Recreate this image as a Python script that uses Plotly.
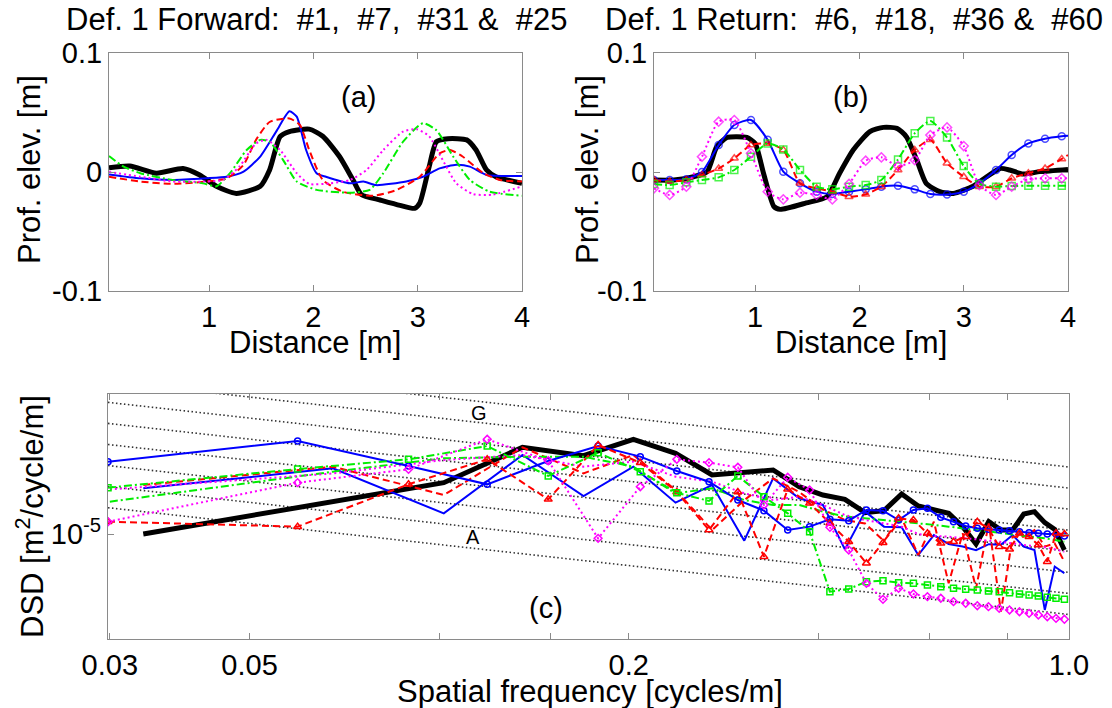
import plotly.graph_objects as go

FONT = "Liberation Sans, Arial, sans-serif"
AXC = "#8a8a8a"

# ---------------- Panel (a): forward profiles ----------------
a_black_x = [0.04, 0.24, 0.495, 0.75, 0.91, 1.07, 1.26, 1.49, 1.58, 1.68, 1.77, 1.96, 2.09, 2.25, 2.38, 2.46, 2.64, 2.83, 2.97, 3.02, 3.11, 3.18, 3.29, 3.47, 3.56, 3.66, 3.75, 4.0]
a_black_y = [0.0036, 0.005, -0.001, 0.003, -0.0025, -0.012, -0.018, -0.012, 0.0017, 0.0297, 0.034, 0.036, 0.030, 0.013, -0.0067, -0.019, -0.0235, -0.028, -0.0305, -0.026, 0.0045, 0.0255, 0.028, 0.027, 0.0185, 0.0017, -0.004, -0.0095]
a_blue_x = [0.04, 0.34, 0.65, 0.97, 1.17, 1.33, 1.49, 1.65, 1.77, 1.84, 1.93, 2.03, 2.12, 2.35, 2.48, 2.6, 2.89, 3.05, 3.21, 3.37, 3.5, 3.66, 4.0]
a_blue_y = [-0.002, -0.0053, -0.0067, -0.0053, -0.004, 0.0003, 0.013, 0.035, 0.051, 0.0465, 0.0185, -0.001, -0.004, -0.0095, -0.008, -0.011, -0.008, -0.004, 0.003, 0.006, 0.0045, -0.0025, -0.0034]
a_red_x = [0.04, 0.34, 0.65, 0.97, 1.17, 1.33, 1.45, 1.58, 1.77, 1.87, 1.96, 2.09, 2.28, 2.57, 2.8, 3.02, 3.21, 3.31, 3.43, 3.63, 3.79, 4.0]
a_red_y = [-0.004, -0.008, -0.010, -0.008, -0.0053, 0.006, 0.027, 0.042, 0.045, 0.0395, 0.0185, -0.0067, -0.0165, -0.020, -0.015, -0.004, 0.0157, 0.0185, 0.013, -0.001, -0.0067, -0.008]
a_green_x = [0.04, 0.18, 0.34, 0.65, 0.94, 1.07, 1.2, 1.36, 1.49, 1.58, 1.71, 1.84, 2.03, 2.35, 2.54, 2.67, 2.86, 3.05, 3.18, 3.34, 3.5, 3.69, 4.0]
a_green_y = [0.0134, 0.0045, -0.001, -0.0067, -0.0095, -0.012, -0.001, 0.0185, 0.027, 0.0255, 0.010, -0.008, -0.015, -0.0174, -0.015, -0.001, 0.0255, 0.041, 0.035, 0.013, -0.0067, -0.0165, -0.020]
a_mag_x = [0.04, 0.34, 0.65, 0.97, 1.13, 1.29, 1.45, 1.55, 1.68, 1.84, 1.96, 2.16, 2.35, 2.51, 2.67, 2.86, 2.99, 3.11, 3.24, 3.37, 3.53, 3.72, 4.0]
a_mag_y = [0.0, -0.004, -0.008, -0.008, -0.0067, 0.0045, 0.024, 0.027, 0.0185, -0.001, -0.010, -0.0095, -0.0067, 0.0017, 0.0185, 0.034, 0.036, 0.030, 0.010, -0.0095, -0.0185, -0.019, -0.012]

# ---------------- Panel (b): return profiles ----------------
b_black_x = [0.03, 0.22, 0.41, 0.54, 0.63, 0.73, 0.92, 1.0, 1.08, 1.18, 1.24, 1.49, 1.69, 1.81, 1.94, 2.10, 2.23, 2.36, 2.45, 2.55, 2.64, 2.77, 2.9, 3.09, 3.22, 3.35, 3.44, 3.57, 3.73, 4.0]
b_black_y = [-0.0067, -0.0067, -0.004, 0.0003, 0.021, 0.029, 0.029, 0.024, -0.001, -0.029, -0.0314, -0.026, -0.0207, -0.001, 0.0185, 0.034, 0.0375, 0.0367, 0.0297, 0.010, -0.0095, -0.0165, -0.018, -0.012, -0.004, 0.003, 0.0017, -0.0017, 0.0003, 0.0022]
b_pos = [0.03, 0.18, 0.34, 0.49, 0.65, 0.80, 0.96, 1.12, 1.27, 1.43, 1.59, 1.74, 1.90, 2.06, 2.21, 2.37, 2.53, 2.68, 2.84, 3.00, 3.15, 3.31, 3.46, 3.62, 3.78, 3.94, 4.0]
b_blue_y = [-0.0067, -0.0067, -0.006, 0.0, 0.0227, 0.0395, 0.0437, 0.027, 0.0003, -0.0095, -0.0165, -0.0185, -0.0165, -0.0146, -0.0123, -0.0115, -0.0146, -0.0185, -0.019, -0.0165, -0.0095, 0.0017, 0.0143, 0.024, 0.028, 0.030, 0.0305]
b_red_y = [-0.0067, -0.008, -0.0067, -0.0025, 0.003, 0.0115, 0.0227, 0.024, 0.0185, -0.0095, -0.0137, -0.0165, -0.0207, -0.0188, -0.0123, 0.0017, 0.0185, 0.027, 0.0073, -0.004, -0.0123, -0.0123, -0.0053, -0.001, 0.003, 0.011, 0.0143]
b_green_y = [-0.010, -0.011, -0.0087, -0.0067, -0.0045, 0.0017, 0.0129, 0.024, 0.019, 0.0017, -0.0123, -0.0146, -0.0123, -0.011, -0.0067, 0.0106, 0.0325, 0.0429, 0.0289, 0.005, -0.010, -0.0123, -0.0118, -0.0115, -0.0115, -0.0115, -0.0115]
b_mag_y = [-0.0137, -0.0193, -0.0123, 0.0129, 0.0423, 0.0437, 0.0157, -0.0165, -0.023, -0.0174, -0.0193, -0.023, -0.010, 0.0095, 0.0123, 0.005, 0.010, 0.031, 0.0375, 0.0218, -0.011, -0.0193, -0.0123, -0.006, -0.0053, -0.0053, -0.0053]

# ---------------- Panel (c): DSD (log10 values) ----------------
freq_ret = [0.0298, 0.0596, 0.0894, 0.1192, 0.149, 0.1788, 0.2086, 0.2384, 0.2682, 0.298, 0.3278, 0.3576, 0.3874, 0.4172, 0.447, 0.4768, 0.5066, 0.5364, 0.5662, 0.596, 0.6258, 0.6556, 0.6854, 0.7152, 0.745, 0.7748, 0.8046, 0.8344, 0.8642, 0.894, 0.9238, 0.9536, 0.9834]
freq_fwd = [0.0339, 0.0678, 0.1017, 0.1356, 0.1695, 0.2034, 0.2373, 0.2712, 0.3051, 0.339, 0.3729, 0.4068, 0.4407, 0.4746, 0.5085, 0.5424, 0.5763, 0.6102, 0.6441, 0.678, 0.7119, 0.7458, 0.7797, 0.8136, 0.8475, 0.8814, 0.9153, 0.9492, 0.9831]
freq_fwd2 = [0.0300, 0.0678, 0.1017, 0.1356, 0.1695, 0.2034, 0.2373, 0.2712, 0.3051, 0.339, 0.3729, 0.4068, 0.4407, 0.4746, 0.5085, 0.5424, 0.5763, 0.6102, 0.6441, 0.678, 0.7119, 0.7458, 0.7797, 0.8136, 0.8475, 0.8814, 0.9153, 0.9492, 0.9831]

dsd_black = [-5.0, -4.06, -3.533, -2.524, -2.762, -2.295, -2.695, -3.314, -3.248, -3.171, -3.648, -3.886, -4.01, -4.39, -4.333, -3.857, -4.2, -4.295, -4.41, -4.79, -5.286, -4.648, -4.886, -4.886, -4.43, -4.362, -4.676, -4.867, -5.457]
dsd_blue_a = [-3.695, -3.124, -4.41, -2.743, -3.914, -3.076, -4.105, -3.6, -5.19, -3.41, -3.98, -4.17, -5.44, -4.36, -4.79, -4.81, -5.6, -5.03, -5.29, -5.36, -5.46, -5.29, -5.31, -5.03, -5.36, -5.46, -7.17, -5.93, -6.12]
dsd_red_a = [-3.6, -3.076, -3.886, -2.524, -3.267, -2.743, -3.743, -4.886, -4.03, -3.41, -3.8, -4.3, -4.6, -4.7, -5.2, -4.55, -5.6, -4.648, -6.41, -4.98, -6.55, -4.7, -7.22, -5.08, -5.08, -4.886, -5.36, -5.27, -5.79]
dsd_green_a = [-4.076, -3.22, -2.838, -2.79, -2.79, -3.076, -3.84, -3.695, -4.03, -4.17, -4.17, -4.36, -4.5, -4.55, -4.6, -4.648, -4.695, -4.74, -4.79, -4.84, -4.886, -4.933, -4.962, -5.0, -5.038, -5.076, -5.124, -5.17, -5.219]
dsd_mag_a = [-3.724, -3.27, -2.886, -2.743, -3.076, -2.933, -3.362, -3.505, -3.838, -4.03, -3.933, -4.171, -4.457, -4.6, -4.695, -4.79, -5.0, -5.057, -5.076, -5.124, -5.152, -5.19, -5.219, -5.267, -5.314, -5.343, -5.381, -5.438, -5.505]

dsd_blue_b = [-2.933, -2.343, -3.057, -3.581, -2.914, -2.486, -2.79, -3.2, -3.505, -4.03, -4.333, -4.886, -4.79, -4.58, -4.62, -4.314, -4.333, -4.6, -4.314, -4.267, -4.524, -4.648, -4.771, -4.838, -4.867, -4.886, -4.905, -4.933, -4.962, -4.981, -5.0, -5.0, -5.057]
dsd_red_b = [-4.648, -4.79, -3.58, -2.867, -4.01, -2.457, -2.962, -3.8, -4.886, -3.8, -5.648, -3.72, -4.124, -4.695, -5.219, -5.838, -5.248, -4.552, -4.6, -4.981, -5.267, -5.219, -5.076, -4.648, -4.838, -5.362, -5.438, -4.981, -5.076, -5.314, -5.79, -4.981, -5.0]
dsd_green_b = [-3.676, -3.143, -2.867, -2.486, -3.343, -2.676, -3.22, -3.82, -4.057, -3.343, -3.933, -4.41, -4.933, -6.648, -6.571, -6.362, -6.333, -6.39, -6.41, -6.457, -6.505, -6.552, -6.58, -6.6, -6.63, -6.648, -6.676, -6.714, -6.743, -6.771, -6.81, -6.838, -6.867]
dsd_mag_b = [-4.648, -3.533, -3.152, -2.295, -2.905, -5.124, -3.648, -2.867, -2.962, -3.095, -4.171, -3.381, -3.743, -4.81, -5.457, -6.41, -6.867, -6.552, -6.714, -6.79, -6.838, -6.933, -6.98, -7.048, -7.076, -7.124, -7.171, -7.22, -7.267, -7.314, -7.362, -7.41, -7.438]

# road-class reference lines: log10 DSD at n0 = 0.1 cycles/m, slope -2
ref_levels = [-5.30, -4.698, -4.096, -3.494, -2.892, -2.290, -1.688, -1.086]
ref_n0 = 0.1
ref_f = [0.0298, 1.0]

BLUE, RED, GREEN, MAG, BLACK = "#0000ff", "#ff0000", "#00ee00", "#ff00ff", "#000000"

fig = go.Figure()

def add(x, y, color, width, dash, xa, ya, symbol=None, msize=None, shape="spline"):
    kw = {}
    if symbol:
        mode = "lines+markers"
        kw["marker"] = dict(symbol=symbol, size=msize, color=color, line=dict(color=color, width=1.5))
    else:
        mode = "lines"
    fig.add_trace(go.Scatter(x=x, y=y, mode=mode, xaxis=xa, yaxis=ya,
                             line=dict(color=color, width=width, dash=dash, shape=shape,
                                       smoothing=0.6 if shape == "spline" else None),
                             showlegend=False, hoverinfo="skip", **kw))

DASH = "7px,4px"
DASHDOT = "8px,3px,2px,3px"
DOT = "2px,3px"

# (a)
add(a_black_x, a_black_y, BLACK, 5, "solid", "x", "y")
add(a_blue_x, a_blue_y, BLUE, 2, "solid", "x", "y")
add(a_red_x, a_red_y, RED, 2, DASH, "x", "y")
add(a_green_x, a_green_y, GREEN, 2, DASHDOT, "x", "y")
add(a_mag_x, a_mag_y, MAG, 2, DOT, "x", "y")

# (b)
msz_b = [7] * (len(b_pos) - 1) + [0]
add(b_black_x, b_black_y, BLACK, 5, "solid", "x2", "y2")
add(b_pos, b_blue_y, BLUE, 2, "solid", "x2", "y2", "circle-open", msz_b)
add(b_pos, b_red_y, RED, 2, DASH, "x2", "y2", "triangle-up-open", msz_b)
add(b_pos, b_green_y, GREEN, 2, DASHDOT, "x2", "y2", "square-open", msz_b)
add(b_pos, b_mag_y, MAG, 2, DOT, "x2", "y2", "diamond-open", msz_b)

# (c) reference lines
for L in ref_levels:
    yy = [10 ** L * (f / ref_n0) ** -2 for f in ref_f]
    fig.add_trace(go.Scatter(x=ref_f, y=yy, mode="lines", xaxis="x3", yaxis="y3",
                             line=dict(color="#333333", width=1.6, dash="1.5px,2.5px"),
                             showlegend=False, hoverinfo="skip"))

def pw(v):
    return [10 ** e for e in v]

add(freq_fwd, pw(dsd_black), BLACK, 5, "solid", "x3", "y3", shape="linear")
add(freq_fwd, pw(dsd_blue_a), BLUE, 2, "solid", "x3", "y3", shape="linear")
add(freq_fwd, pw(dsd_red_a), RED, 2, DASH, "x3", "y3", shape="linear")
add(freq_fwd2, pw(dsd_green_a), GREEN, 2, DASHDOT, "x3", "y3", shape="linear")
add(freq_fwd2, pw(dsd_mag_a), MAG, 2, DOT, "x3", "y3", shape="linear")
add(freq_ret, pw(dsd_blue_b), BLUE, 2, "solid", "x3", "y3", "circle-open", 6, shape="linear")
add(freq_ret, pw(dsd_red_b), RED, 2, DASH, "x3", "y3", "triangle-up-open", 7, shape="linear")
add(freq_ret, pw(dsd_green_b), GREEN, 2, DASHDOT, "x3", "y3", "square-open", 6, shape="linear")
add(freq_ret, pw(dsd_mag_b), MAG, 2, DOT, "x3", "y3", "diamond-open", 6, shape="linear")

W, H = 1112, 708
def px(v): return v / W
def py(v): return 1 - v / H

common = dict(showline=True, linecolor=AXC, linewidth=1.2, mirror="ticks", ticks="inside",
              ticklen=6, tickcolor=AXC, showgrid=False, zeroline=False, automargin=False,
              tickfont=dict(size=29, color="black", family=FONT))

fig.update_layout(
    template="none",
    width=W, height=H, margin=dict(l=0, r=0, t=0, b=0, autoexpand=False),
    paper_bgcolor="white", plot_bgcolor="white",
    font=dict(family=FONT, color="black"),
    xaxis=dict(domain=[px(109), px(522)], range=[0.04, 4], tickvals=[1, 2, 3, 4], anchor="y", **common),
    yaxis=dict(domain=[py(291), py(53)], range=[-0.1, 0.1], tickvals=[-0.1, 0, 0.1],
               ticktext=["-0.1", "0", "0.1"], anchor="x", **common),
    xaxis2=dict(domain=[px(654), px(1068)], range=[0.03, 4], tickvals=[1, 2, 3, 4], anchor="y2", **common),
    yaxis2=dict(domain=[py(291), py(53)], range=[-0.1, 0.1], tickvals=[-0.1, 0, 0.1],
                ticktext=["-0.1", "0", "0.1"], anchor="x2", **common),
    xaxis3=dict(domain=[px(108), px(1069)], type="log", range=[-1.5258, 0],
                tickvals=[0.03, 0.05, 0.2, 1.0],
                ticktext=["0.03", "0.05", "0.2", "1.0"], anchor="y3",
                minor=dict(tickvals=[0.1, 0.15, 0.4, 0.6, 0.8], ticks="inside", ticklen=6, tickcolor=AXC),
                **common),
    yaxis3=dict(domain=[py(639), py(394)], type="log", range=[-8, -1],
                tickvals=[1e-5], ticktext=["10<sup>-5</sup>"], anchor="x3", **common),
)

ann = [
    dict(text="Def. 1 Forward:\u00a0 #1,\u00a0 #7,\u00a0 #31 &\u00a0 #25", x=px(316), y=py(20), size=31),
    dict(text="Def. 1 Return:\u00a0 #6,\u00a0 #18,\u00a0 #36 &\u00a0 #60", x=px(854), y=py(20), size=31),
    dict(text="Prof. elev. [m]", x=px(30), y=py(170), size=31, angle=-90),
    dict(text="Prof. elev. [m]", x=px(588), y=py(170), size=31, angle=-90),
    dict(text="Distance [m]", x=px(315), y=py(342), size=31),
    dict(text="Distance [m]", x=px(861), y=py(342), size=31),
    dict(text="DSD [m<sup>2</sup>/cycle/m]", x=px(30), y=py(517), size=31, angle=-90),
    dict(text="Spatial frequency [cycles/m]", x=px(590), y=py(691), size=31),
]
annotations = []
for a in ann:
    annotations.append(dict(text=a["text"], x=a["x"], y=a["y"], xref="paper", yref="paper",
                            showarrow=False, xanchor="center", yanchor="middle",
                            textangle=a.get("angle", 0),
                            font=dict(size=a["size"], family=FONT, color="black")))
annotations += [
    dict(text="(a)", x=2.43, y=0.063, xref="x", yref="y", showarrow=False, font=dict(size=29, family=FONT, color="black")),
    dict(text="(b)", x=1.91, y=0.063, xref="x2", yref="y2", showarrow=False, font=dict(size=29, family=FONT, color="black")),
    dict(text="(c)", x=-0.8307, y=-7.114, xref="x3", yref="y3", showarrow=False, font=dict(size=29, family=FONT, color="black")),
    dict(text="G", x=-0.9367, y=-1.543, xref="x3", yref="y3", showarrow=False, font=dict(size=20, family=FONT, color="black")),
    dict(text="A", x=-0.9462, y=-5.086, xref="x3", yref="y3", showarrow=False, font=dict(size=20, family=FONT, color="black")),
]
fig.update_layout(annotations=annotations)

fig.write_html("out.html", config={"displayModeBar": False},
               post_script="document.body.style.margin='0';")
